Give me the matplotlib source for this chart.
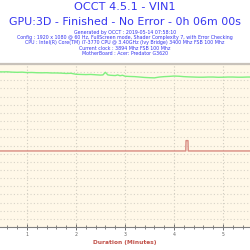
import matplotlib
matplotlib.use("Agg")
import matplotlib.pyplot as plt
from matplotlib.ticker import MultipleLocator

title = "OCCT 4.5.1 - VIN1"
subtitle = "GPU:3D - Finished - No Error - 0h 06m 00s"
info_lines = [
    "Generated by OCCT : 2019-05-14 07:58:10",
    "Config : 1920 x 1080 @ 60 Hz, FullScreen mode, Shader Complexity 7, with Error Checking",
    "CPU : Intel(R) Core(TM) i7-3770 CPU @ 3.40GHz (Ivy Bridge) 3400 Mhz FSB 100 Mhz",
    "Current clock : 3894 Mhz FSB 100 Mhz",
    "MotherBoard : Acer: Predator G3620",
]

# series (minutes, value)
green_t = [0.0, 0.2, 0.4, 0.5, 0.6, 0.7, 0.8, 0.9, 1.0, 1.1, 1.2, 1.3, 1.4, 1.5,
           1.6, 1.7, 1.8, 1.9, 2.0, 2.1, 2.2, 2.3, 2.4, 2.5, 2.55, 2.6, 2.65,
           2.7, 2.8, 2.85, 2.9, 2.95, 3.0, 3.1, 3.2, 3.3, 3.4, 3.5, 3.6, 3.7,
           3.8, 3.9, 4.0, 4.1, 4.2, 4.3, 4.4, 4.5, 4.6, 4.7, 4.8, 4.9, 5.0,
           5.1, 5.2, 5.3, 5.4, 5.5, 5.6, 6.0]
green_v = [19.1, 19.08, 19.05, 19.03, 19.04, 19.0, 18.98, 19.0, 18.95, 18.96,
           18.93, 18.92, 18.93, 18.9, 18.9, 18.88, 18.84, 18.86, 18.74, 18.72,
           18.7, 18.72, 18.68, 18.64, 18.66, 18.98, 18.66, 18.62, 18.58, 18.66,
           18.56, 18.62, 18.5, 18.47, 18.45, 18.4, 18.35, 18.32, 18.3, 18.4,
           18.45, 18.48, 18.52, 18.5, 18.45, 18.42, 18.4, 18.38, 18.38, 18.4,
           18.4, 18.37, 18.38, 18.4, 18.4, 18.38, 18.38, 18.4, 18.4, 18.4]

red_t = [0.0, 4.24, 4.245, 4.285, 4.29, 6.0]
red_v = [9.33, 9.33, 10.6, 10.6, 9.33, 9.33]

fig = plt.figure(figsize=(2.5, 2.5), dpi=100)
fig.patch.set_facecolor("white")

blue = "#3535f0"
fig.text(0.5, 0.970, title, ha="center", va="center", fontsize=8.1, color=blue)
fig.text(0.5, 0.913, subtitle, ha="center", va="center", fontsize=7.9, color=blue)
ys = [0.871, 0.851, 0.829, 0.805, 0.787]
for y, line in zip(ys, info_lines):
    fig.text(0.5, y, line, ha="center", va="center", fontsize=3.45, color=blue)

ax = fig.add_axes([0, 0.092, 1, 0.652])
ax.set_facecolor("#fff8e8")
ax.plot(green_t, green_v, color="#80f080", lw=1.0)
ax.plot(red_t, red_v, color="#d88a80", lw=1.0)

ax.set_xlim(0.45, 5.55)
ax.set_ylim(0, 20)
ax.xaxis.set_major_locator(MultipleLocator(1))
ax.xaxis.set_minor_locator(MultipleLocator(0.2))
ax.yaxis.set_major_locator(MultipleLocator(1))
ax.grid(True, which="major", axis="x", color="#d0ccc0", ls=(0, (1, 2)), lw=0.8)
ax.grid(True, which="major", axis="y", color="#d8d4c8", ls=(0, (1, 2)), lw=0.8)

for s in ["left", "right"]:
    ax.spines[s].set_visible(False)
ax.spines["top"].set_color("#c8c2ba")
ax.spines["top"].set_linewidth(1.6)
ax.spines["bottom"].set_color("#808080")
ax.spines["bottom"].set_linewidth(0.8)

ax.tick_params(axis="y", left=False, labelleft=False)
ax.tick_params(axis="x", which="both", direction="inout", color="#707070",
               labelsize=3.3, labelcolor="#606060", pad=1)
ax.tick_params(axis="x", which="major", length=5, width=0.7)
ax.tick_params(axis="x", which="minor", length=3, width=0.6)

ax.set_xlabel("Duration (Minutes)", fontsize=4.2, color="#c05048",
              fontweight="bold", labelpad=2)

fig.savefig("out.png", dpi=100)
